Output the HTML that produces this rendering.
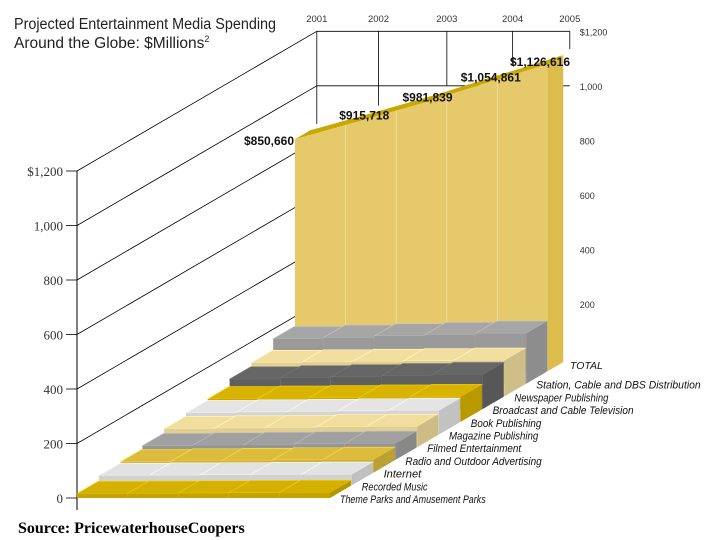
<!DOCTYPE html>
<html><head><meta charset="utf-8"><style>
html,body{margin:0;padding:0;background:#fff;}
svg{display:block;}
</style></head><body>
<svg id="chart" width="720" height="540" viewBox="0 0 720 540" xmlns="http://www.w3.org/2000/svg" font-family="'Liberation Sans', sans-serif">
<text x="14" y="29" font-size="15.5" fill="#222" textLength="262" lengthAdjust="spacingAndGlyphs">Projected Entertainment Media Spending</text>
<text x="14" y="48" font-size="15.5" fill="#222">Around the Globe: $Millions<tspan font-size="9" dy="-6">2</tspan></text>
<text x="18" y="533" font-size="16" font-weight="bold" font-family="'Liberation Serif', serif" fill="#000">Source: PricewaterhouseCoopers</text>
<g id="g"></g>
</svg>
<script>
const years = ["2001","2002","2003","2004","2005"];
const yearPos = [0,1.22,2.57,3.87,5];
const rows = ["Theme Parks and Amusement Parks","Recorded Music","Internet","Radio and Outdoor Advertising","Filmed Entertainment","Magazine Publishing","Book Publishing","Broadcast and Cable Television","Newspaper Publishing","Station, Cable and DBS Distribution"];
const rowColors = ["#d4b000","#e2e2e2","#dcbc3c","#a0a0a0","#f1dd9e","#e4e4e4","#d8b400","#666666","#f2df9f","#a6a6a6"];
const rowValues = [
 [16,17,18,19,20],[36,37,38,39,40],[40,42,44,46,48],[52,54,56,58,60],
 [68,70,72,74,76],[80,82,84,86,88],[84,86,88,90,92],[110,114,118,122,126],
 [124,126,128,130,132],[165,170,175,180,185]];
const totals = [850.660,915.718,981.839,1054.861,1126.616];
const totalLabels = ["$850,660","$915,718","$981,839","$1,054,861","$1,126,616"];
const leftTicks = [0,200,400,600,800,1000,1200];
const leftTickLabels = ["0","200","400","600","800","1,000","$1,200"];
const rightTickLabels = ["","200","400","600","800","1,000","$1,200"];

const NS="http://www.w3.org/2000/svg", g=document.getElementById('g');
const OX=77, OY=498, UX=50.6, SX=21.8, SY=12.7, K=327/1200, NSLOT=11;
function P(x,s,v){return [OX+x*UX+s*SX, OY-s*SY-v*K];}
function el(t,a){const e=document.createElementNS(NS,t);for(const k in a)e.setAttribute(k,a[k]);g.appendChild(e);return e;}
function poly(pts,fill,stroke){return el('polygon',{points:pts.map(p=>p.join(',')).join(' '),fill:fill,stroke:stroke||'none','stroke-width':0.6});}
function shade(c,f){const n=parseInt(c.slice(1),16);let r=n>>16,gg=(n>>8)&255,b=n&255;r=Math.min(255,Math.round(r*f));gg=Math.min(255,Math.round(gg*f));b=Math.min(255,Math.round(b*f));return 'rgb('+r+','+gg+','+b+')';}

const B=NSLOT;
leftTicks.forEach((v,i)=>{
  const a=P(0,0,v), b=P(0,B,v);
  let l=el('line',{x1:a[0],y1:a[1],x2:b[0],y2:b[1],stroke:'#000','stroke-width':0.8});
  
  
  const c=P(5,B,v);
  if(v>=1000){let h=el('line',{x1:b[0],y1:b[1],x2:c[0],y2:c[1],stroke:'#000','stroke-width':0.8});
    
    }
  let tk=el('line',{x1:a[0]-11,y1:a[1],x2:a[0],y2:a[1],stroke:'#000','stroke-width':0.8});
  
  
  let t=el('text',{x:a[0]-14,y:a[1]+5,'font-size':13,'text-anchor':'end',fill:'#333','font-family':"'Liberation Serif', serif"});
  t.textContent=leftTickLabels[i];
  
  
  if(rightTickLabels[i]){let r=el('text',{x:c[0]+10,y:c[1]+4,'font-size':9,fill:'#333'});
    r.textContent=rightTickLabels[i];
    
    }
});
yearPos.forEach((xp,j)=>{
  const top=P(xp,B,1200), bot=P(xp,B,860+55*xp);
  let l=el('line',{x1:top[0],y1:top[1],x2:bot[0],y2:bot[1],stroke:'#000','stroke-width':0.8});
  
  
  let t=el('text',{x:top[0],y:22,'font-size':9.5,'text-anchor':'middle',fill:'#333'});
  t.textContent=years[j];
  
  
});
let ax=el('line',{x1:OX,y1:P(0,0,1200)[1],x2:OX,y2:OY+12,stroke:'#000','stroke-width':1});



// total ribbon
{
  const s0=10, s1=10.7;
  const xs=totals.map((v,j)=>j*5/4);
  const top=totals.map((v,j)=>P(xs[j],s0,v));
  const front=[P(0,s0,0)].concat(top).concat([P(5,s0,0)]);
  const topStrip=totals.map((v,j)=>P(xs[j],s0,v)).concat(totals.map((v,j)=>P(xs[j],s1,v)).reverse());
  let ts=poly(topStrip,'#c9a800');
  
  
  let sd=poly([P(5,s0,0),P(5,s0,totals[4]),P(5,s1,totals[4]),P(5,s1,0)],'#dcbd4c');
  
  
  let fr=poly(front,'#e5c96b');
  
  
  for(let j=1;j<5;j++){const a=P(j,s0,0), b=P(j,s0,totals[0]+(totals[4]-totals[0])*j/5-5);
    let l=el('line',{x1:a[0],y1:a[1],x2:b[0],y2:b[1],stroke:'#f3e2a8','stroke-width':0.8});
    
    }
  totals.forEach((v,j)=>{const p=top[j];
    let t=el('text',{x:p[0]+(j==0?-26:j==4?-8:6),y:p[1]+(j==0?6:j==4?2:-2),'font-size':12,'font-weight':'bold','text-anchor':'middle',fill:'#111'});
    t.textContent=totalLabels[j];
    
    });
  const lp=P(5,s0,0);
  let tl=el('text',{x:lp[0]+22,y:lp[1]-2,'font-size':10.5,'font-style':'italic',fill:'#111'});
  tl.textContent='TOTAL';
  
  
}

// category rows, back to front
for(let i=rows.length-1;i>=0;i--){
  const s0=i, s1=i+0.97, c=rowColors[i], vals=rowValues[i];
  for(let j=0;j<5;j++){
    const v=vals[j];
    let tf=poly([P(j,s0,v),P(j+1,s0,v),P(j+1,s1,v),P(j,s1,v)],c,shade(c,1.2));
    
    
    let ff=poly([P(j,s0,0),P(j+1,s0,0),P(j+1,s0,v),P(j,s0,v)],shade(c,0.93));
    
    
  }
  const v=vals[4];
  let sf=poly([P(5,s0,0),P(5,s1,0),P(5,s1,v),P(5,s0,v)],shade(c,0.85));
  
  
  const lp=P(5,s0,0);
  let t=el('text',{x:lp[0]+10,y:lp[1]+5,'font-size':11,'font-style':'italic',fill:'#111',textLength:rows[i].length*4.7,lengthAdjust:'spacingAndGlyphs'});
  t.textContent=rows[i];
  
  
}
</script>
</body></html>
